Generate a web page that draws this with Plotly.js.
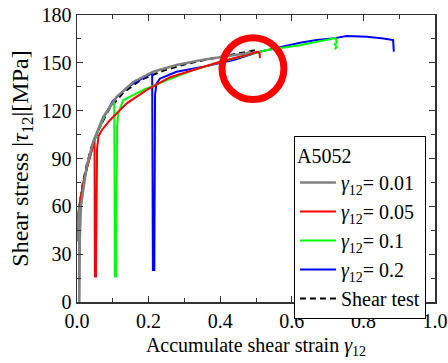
<!DOCTYPE html>
<html>
<head>
<meta charset="utf-8">
<script src="https://cdn.plot.ly/plotly-3.0.1.min.js"></script>
<style>html,body{margin:0;padding:0;background:#fff;}#chart{width:448px;height:363px;}</style>
</head>
<body>
<div id="chart"></div>
<script>
// Shear test (black dashed)
var testX = [0, 0.003, 0.008, 0.015, 0.025, 0.04, 0.06, 0.09, 0.13, 0.18, 0.24, 0.3, 0.36, 0.42, 0.47, 0.5];
var testY = [40, 52, 62, 73, 84, 97, 108, 121, 131.5, 139.5, 145, 149, 152, 154.5, 156.5, 158];

// gamma12 = 0.01 (gray)
var g001X = [0, 0.003, 0.006, 0.0065, 0.008, 0.011, 0.02, 0.027, 0.046, 0.073, 0.111, 0.157, 0.213, 0.278, 0.353, 0.418, 0.474, 0.485];
var g001Y = [38, 52, 60, 0, 40, 60, 76, 85, 101, 116, 128.7, 138, 144.4, 148.6, 152, 154.2, 156, 157];

// gamma12 = 0.05 (red)
var g005X = [0, 0.004, 0.01, 0.02, 0.03, 0.046, 0.049, 0.05, 0.053, 0.056, 0.06, 0.07, 0.092, 0.139, 0.195, 0.26, 0.325, 0.40, 0.474, 0.505, 0.51, 0.511];
var g005Y = [44, 55, 65, 77, 86, 100, 101, 16, 16, 96, 104, 108, 114, 124.6, 133, 141, 145.5, 150.7, 154.9, 157, 156, 153];

// gamma12 = 0.1 (green)
var g01X = [0, 0.004, 0.01, 0.02, 0.03, 0.046, 0.06, 0.08, 0.1, 0.104, 0.106, 0.109, 0.112, 0.115, 0.129, 0.15, 0.185, 0.25, 0.325, 0.40, 0.5, 0.53, 0.623, 0.716, 0.722, 0.726, 0.72, 0.726, 0.72];
var g01Y = [44, 55, 65, 77, 86, 100, 108, 118, 125, 126, 16, 16, 110, 118, 126.5, 129, 133, 139, 145.5, 150.5, 156, 158, 161, 165.3, 165.5, 163, 161.5, 160, 158.5];

// gamma12 = 0.2 (blue)
var g02X = [0, 0.004, 0.01, 0.02, 0.03, 0.046, 0.06, 0.08, 0.1, 0.13, 0.16, 0.2, 0.21, 0.212, 0.216, 0.218, 0.222, 0.232, 0.278, 0.353, 0.437, 0.511, 0.56, 0.623, 0.67, 0.72, 0.753, 0.81, 0.856, 0.883, 0.885];
var g02Y = [44, 55, 65, 77, 86, 100, 108, 118, 126, 132.5, 137.5, 142.5, 143.5, 20, 20, 130, 137, 140.2, 144.4, 147.5, 151.7, 157, 159.5, 162.6, 164.3, 165.5, 166.8, 166.4, 165.3, 164.3, 157];

var legendTitle = 'A5052';
var names = ['<i>γ</i><sub>12</sub>= 0.01', '<i>γ</i><sub>12</sub>= 0.05', '<i>γ</i><sub>12</sub>= 0.1', '<i>γ</i><sub>12</sub>= 0.2', 'Shear test'];

var FONT = '"Liberation Serif", "Times New Roman", Times, serif';

var traces = [
  {x: testX, y: testY, name: names[4], mode: 'lines', line: {color: '#000000', width: 2, dash: '6px,4px'}, legendrank: 5},
  {x: g02X, y: g02Y, name: names[3], mode: 'lines', line: {color: '#0000ff', width: 2}, legendrank: 4},
  {x: g01X, y: g01Y, name: names[2], mode: 'lines', line: {color: '#00ff00', width: 2}, legendrank: 3},
  {x: g005X, y: g005Y, name: names[1], mode: 'lines', line: {color: '#ff0000', width: 2}, legendrank: 2},
  {x: g001X, y: g001Y, name: names[0], mode: 'lines', line: {color: '#808080', width: 2.5}, legendrank: 1}
];

var layout = {
  width: 448, height: 363,
  margin: {l: 77, r: 13, t: 15, b: 61},
  paper_bgcolor: '#fff', plot_bgcolor: '#fff',
  font: {family: FONT, size: 20, color: '#000'},
  showlegend: true,
  legend: {
    x: 0.606, y: 0.578, xanchor: 'left', yanchor: 'top',
    bordercolor: '#000', borderwidth: 1, bgcolor: '#fff',
    itemwidth: 36,
    font: {family: FONT, size: 20, color: '#000'},
    title: {text: legendTitle, font: {family: FONT, size: 20}},
    traceorder: 'normal'
  },
  xaxis: {
    range: [0, 1], dtick: 0.2, tick0: 0, tickformat: '.1f',
    ticks: 'inside', ticklen: 6, tickcolor: '#333', tickwidth: 1,
    minor: {dtick: 0.1, ticks: 'inside', ticklen: 4, tickcolor: '#333'},
    showline: true, linecolor: '#333', linewidth: 1.5, mirror: 'ticks',
    showgrid: false, zeroline: false,
    tickfont: {family: FONT, size: 20},
    title: {text: 'Accumulate shear strain <i>γ</i><sub>12</sub>', font: {family: FONT, size: 20}, standoff: 7}
  },
  yaxis: {
    range: [0, 180], dtick: 30, tick0: 0,
    ticks: 'inside', ticklen: 6, tickcolor: '#333', tickwidth: 1,
    minor: {dtick: 15, ticks: 'inside', ticklen: 4, tickcolor: '#333'},
    showline: true, linecolor: '#333', linewidth: 1.5, mirror: 'ticks',
    showgrid: false, zeroline: false,
    tickfont: {family: FONT, size: 20},
    title: {text: 'Shear stress |<i>τ</i><sub>12</sub>|[MPa]', font: {family: FONT, size: 24}, standoff: 6}
  },
  shapes: [
    {type: 'circle', xref: 'x', yref: 'y', x0: 0.405, x1: 0.578, y0: 127, y1: 165.8,
     line: {color: '#ff0000', width: 7}}
  ]
};

Plotly.newPlot('chart', traces, layout, {displayModeBar: false, staticPlot: true});
</script>
</body>
</html>
